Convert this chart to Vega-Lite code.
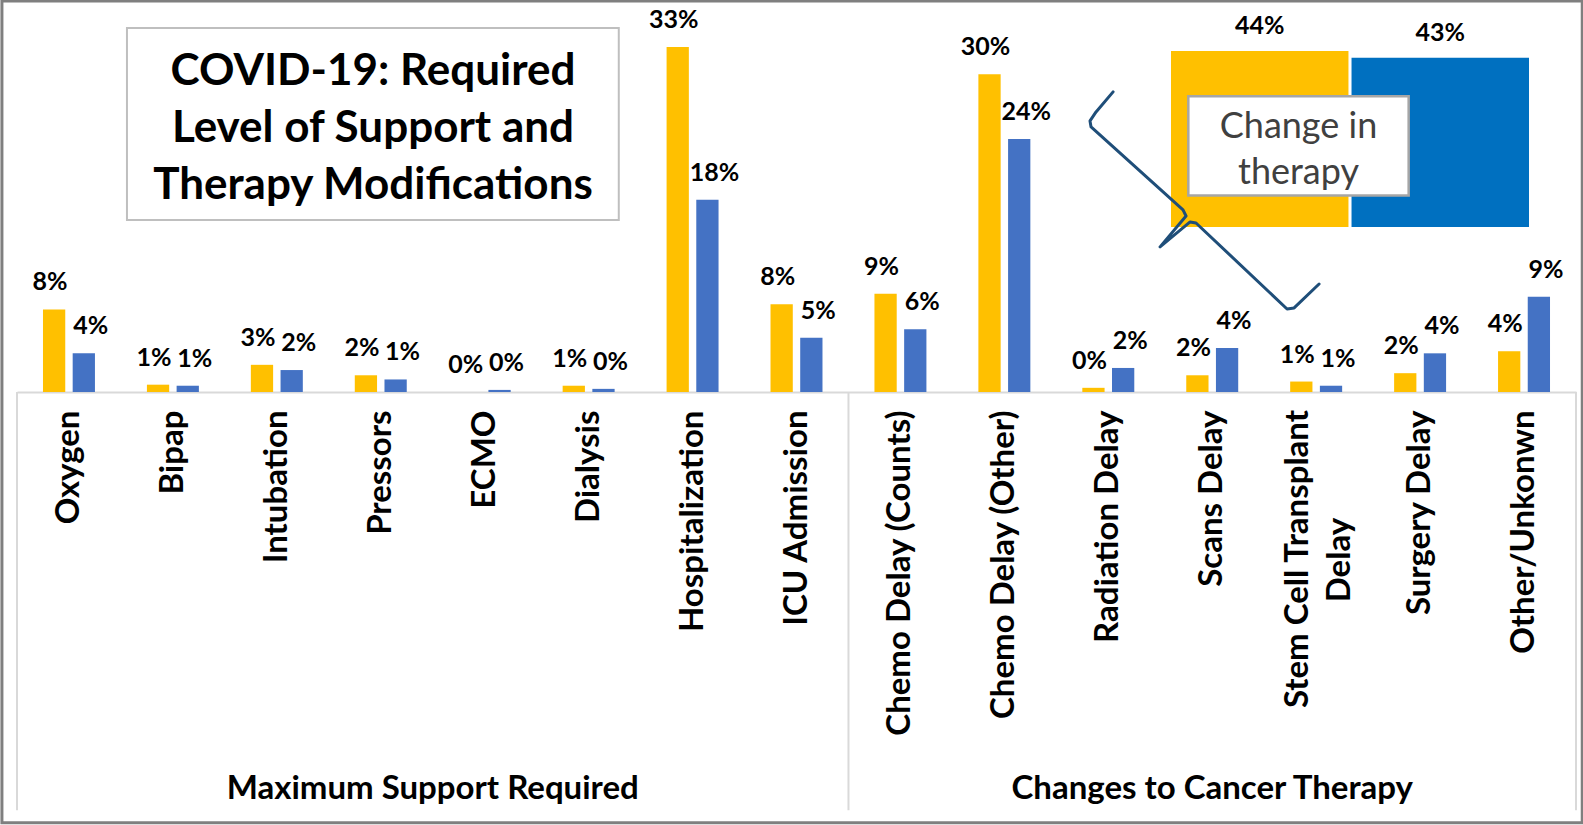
{
  "$schema": "https://vega.github.io/schema/vega-lite/v6.json",
  "width": 1559,
  "height": 392,
  "autosize": {"type": "none"},
  "padding": {"left": 17, "top": 0, "right": 7, "bottom": 433},
  "background": "white",
  "config": {"view": {"stroke": null}, "font": "Lato", "text": {"font": "Lato"}},
  "datasets": {
    "main": [
      {"category": "Oxygen", "series": "Series 1", "share": 0.079},
      {"category": "Oxygen", "series": "Series 2", "share": 0.037},
      {"category": "Bipap", "series": "Series 1", "share": 0.007},
      {"category": "Bipap", "series": "Series 2", "share": 0.006},
      {"category": "Intubation", "series": "Series 1", "share": 0.026},
      {"category": "Intubation", "series": "Series 2", "share": 0.021},
      {"category": "Pressors", "series": "Series 1", "share": 0.016},
      {"category": "Pressors", "series": "Series 2", "share": 0.012},
      {"category": "ECMO", "series": "Series 1", "share": 0.0},
      {"category": "ECMO", "series": "Series 2", "share": 0.002},
      {"category": "Dialysis", "series": "Series 1", "share": 0.006},
      {"category": "Dialysis", "series": "Series 2", "share": 0.003},
      {"category": "Hospitalization", "series": "Series 1", "share": 0.33},
      {"category": "Hospitalization", "series": "Series 2", "share": 0.184},
      {"category": "ICU Admission", "series": "Series 1", "share": 0.084},
      {"category": "ICU Admission", "series": "Series 2", "share": 0.052},
      {"category": "Chemo Delay (Counts)", "series": "Series 1", "share": 0.094},
      {"category": "Chemo Delay (Counts)", "series": "Series 2", "share": 0.06},
      {"category": "Chemo Delay (Other)", "series": "Series 1", "share": 0.304},
      {"category": "Chemo Delay (Other)", "series": "Series 2", "share": 0.242},
      {"category": "Radiation Delay", "series": "Series 1", "share": 0.004},
      {"category": "Radiation Delay", "series": "Series 2", "share": 0.023},
      {"category": "Scans Delay", "series": "Series 1", "share": 0.016},
      {"category": "Scans Delay", "series": "Series 2", "share": 0.042},
      {"category": "Stem Cell Transplant Delay", "series": "Series 1", "share": 0.01},
      {"category": "Stem Cell Transplant Delay", "series": "Series 2", "share": 0.006},
      {"category": "Surgery Delay", "series": "Series 1", "share": 0.018},
      {"category": "Surgery Delay", "series": "Series 2", "share": 0.037},
      {"category": "Other/Unkonwn", "series": "Series 1", "share": 0.039},
      {"category": "Other/Unkonwn", "series": "Series 2", "share": 0.091}
    ],
    "inset": [
      {"series": "Series 1", "share": 0.443},
      {"series": "Series 2", "share": 0.426}
    ],
    "brace": [
      {"i": 0, "bx": 10.546, "by": 0.2871},
      {"i": 1, "bx": 10.382, "by": 0.2679},
      {"i": 2, "bx": 10.324, "by": 0.2593},
      {"i": 3, "bx": 10.334, "by": 0.2536},
      {"i": 4, "bx": 11.219, "by": 0.1742},
      {"i": 5, "bx": 11.248, "by": 0.1684},
      {"i": 6, "bx": 10.998, "by": 0.1388},
      {"i": 7, "bx": 11.287, "by": 0.1627},
      {"i": 8, "bx": 11.344, "by": 0.1617},
      {"i": 9, "bx": 12.22, "by": 0.0794},
      {"i": 10, "bx": 12.288, "by": 0.0804},
      {"i": 11, "bx": 12.528, "by": 0.1033}
    ]
  },
  "resolve": {"scale": {"x": "independent", "y": "independent", "color": "independent", "xOffset": "independent"}},
  "layer": [
    {
      "data": {"name": "main"},
      "encoding": {
        "x": {
          "field": "category", "type": "nominal", "sort": null,
          "scale": {
            "domain": ["Oxygen", "Bipap", "Intubation", "Pressors", "ECMO", "Dialysis", "Hospitalization", "ICU Admission", "Chemo Delay (Counts)", "Chemo Delay (Other)", "Radiation Delay", "Scans Delay", "Stem Cell Transplant Delay", "Surgery Delay", "Other/Unkonwn"],
            "paddingInner": 0.5, "paddingOuter": 0.25
          },
          "axis": {
            "title": null, "labelAngle": 270, "labelAlign": "right", "labelBaseline": "middle",
            "labelPadding": 18, "labelFont": "Lato", "labelFontWeight": "bold", "labelFontSize": 33,
            "labelColor": "#000000", "labelLimit": 0, "labelOverlap": false,
            "ticks": false, "domainColor": "#D9D9D9", "domainWidth": 2,
            "labelExpr": "datum.value == 'Stem Cell Transplant Delay' ? '' : datum.value"
          }
        },
        "xOffset": {"field": "series", "type": "nominal", "scale": {"domain": ["Series 1", "Series 2"], "paddingInner": 0.25, "paddingOuter": 0}},
        "y": {"field": "share", "type": "quantitative", "scale": {"domain": [0, 0.375], "nice": false, "zero": false}, "axis": null}
      },
      "layer": [
        {
          "mark": {"type": "bar"},
          "encoding": {
            "color": {"field": "series", "type": "nominal", "scale": {"domain": ["Series 1", "Series 2"], "range": ["#FFC000", "#4472C4"]}, "legend": null}
          }
        },
        {
          "transform": [{"filter": "datum.series == 'Series 1'"}],
          "mark": {"type": "text", "baseline": "bottom", "dy": -14, "dx": -4, "fontSize": 25, "fontWeight": "bold", "color": "#000000"},
          "encoding": {"text": {"field": "share", "type": "quantitative", "format": ".0%"}}
        },
        {
          "transform": [{"filter": "datum.series == 'Series 2'"}],
          "mark": {"type": "text", "baseline": "bottom", "dy": -14, "dx": 7, "fontSize": 25, "fontWeight": "bold", "color": "#000000"},
          "encoding": {"text": {"field": "share", "type": "quantitative", "format": ".0%"}}
        }
      ]
    },
    {
      "data": {"name": "inset"},
      "encoding": {
        "x": {"field": "series", "type": "nominal", "scale": {"domain": ["Series 1", "Series 2"], "range": [1154, 1512], "paddingInner": 0.017, "paddingOuter": 0}, "axis": null},
        "y": {"field": "share", "type": "quantitative", "scale": {"domain": [0, 0.443], "range": [227, 51], "nice": false}, "axis": null}
      },
      "layer": [
        {
          "mark": {"type": "bar"},
          "encoding": {
            "color": {"field": "series", "type": "nominal", "scale": {"domain": ["Series 1", "Series 2"], "range": ["#FFC000", "#0070C0"]}, "legend": null}
          }
        },
        {
          "mark": {"type": "text", "baseline": "bottom", "dy": -12, "fontSize": 25, "fontWeight": "bold", "color": "#000000"},
          "encoding": {"text": {"field": "share", "type": "quantitative", "format": ".0%"}}
        }
      ]
    },
    {
      "data": {"values": [{}]},
      "layer": [
        {
          "mark": {"type": "rule", "color": "#D9D9D9", "strokeWidth": 2},
          "data": {"values": [{"boundary": 0}, {"boundary": 8}, {"boundary": 15}]},
          "encoding": {
            "x": {"field": "boundary", "type": "quantitative", "scale": {"domain": [0, 15], "nice": false, "zero": false}, "axis": null},
            "y": {"datum": 0, "type": "quantitative", "scale": {"domain": [0, 0.375], "nice": false, "zero": false}, "axis": null},
            "y2": {"datum": -0.4}
          }
        },
        {
          "mark": {"type": "text", "fontSize": 33, "fontWeight": "bold", "color": "#000000", "align": "right", "baseline": "middle", "angle": 270, "text": "Stem Cell Transplant"},
          "encoding": {
            "x": {"datum": 12.324, "type": "quantitative"},
            "y": {"datum": -0.0172, "type": "quantitative"}
          }
        },
        {
          "mark": {"type": "text", "fontSize": 33, "fontWeight": "bold", "color": "#000000", "align": "center", "baseline": "middle", "angle": 270, "text": "Delay"},
          "encoding": {
            "x": {"datum": 12.73, "type": "quantitative"},
            "y": {"datum": -0.1608, "type": "quantitative"}
          }
        },
        {
          "mark": {"type": "text", "fontSize": 33, "fontWeight": "bold", "color": "#000000", "align": "center", "baseline": "middle", "text": "Maximum Support Required"},
          "encoding": {
            "x": {"datum": 4, "type": "quantitative"},
            "y": {"datum": -0.38, "type": "quantitative"}
          }
        },
        {
          "mark": {"type": "text", "fontSize": 33, "fontWeight": "bold", "color": "#000000", "align": "center", "baseline": "middle", "text": "Changes to Cancer Therapy"},
          "encoding": {
            "x": {"datum": 11.5, "type": "quantitative"},
            "y": {"datum": -0.38, "type": "quantitative"}
          }
        },
        {
          "mark": {"type": "rect", "fill": "#FFFFFF", "stroke": "#BFBFBF", "strokeWidth": 2},
          "encoding": {
            "x": {"datum": 1.058, "type": "quantitative"},
            "x2": {"datum": 5.79},
            "y": {"datum": 0.3483, "type": "quantitative"},
            "y2": {"datum": 0.1646}
          }
        },
        {
          "mark": {"type": "text", "fontSize": 44, "fontWeight": "bold", "color": "#000000", "align": "center", "baseline": "middle", "lineHeight": 57, "text": ["COVID-19: Required", "Level of Support and", "Therapy Modifications"]},
          "encoding": {
            "x": {"datum": 3.425, "type": "quantitative"},
            "y": {"datum": 0.306, "type": "quantitative"}
          }
        },
        {
          "mark": {"type": "rect", "fill": "#FFFFFF", "stroke": "#A6A6A6", "strokeWidth": 2.5},
          "encoding": {
            "x": {"datum": 11.27, "type": "quantitative"},
            "x2": {"datum": 13.39},
            "y": {"datum": 0.283, "type": "quantitative"},
            "y2": {"datum": 0.188}
          }
        },
        {
          "mark": {"type": "text", "fontSize": 36, "fontWeight": "normal", "color": "#404040", "align": "center", "baseline": "middle", "lineHeight": 46, "text": ["Change in", "therapy"]},
          "encoding": {
            "x": {"datum": 12.33, "type": "quantitative"},
            "y": {"datum": 0.2536, "type": "quantitative"}
          }
        },
        {
          "data": {"name": "brace"},
          "mark": {"type": "line", "color": "#1F4E79", "strokeWidth": 3, "strokeJoin": "round", "strokeCap": "round"},
          "encoding": {
            "x": {"field": "bx", "type": "quantitative"},
            "y": {"field": "by", "type": "quantitative"},
            "order": {"field": "i", "type": "quantitative"}
          }
        },
        {
          "mark": {"type": "rect", "fill": null, "fillOpacity": 0, "stroke": "#7F7F7F", "strokeWidth": 3},
          "encoding": {
            "x": {"datum": -0.145, "type": "quantitative"},
            "x2": {"datum": 15.06},
            "y": {"datum": 0.374, "type": "quantitative"},
            "y2": {"datum": -0.412}
          }
        }
      ]
    }
  ]
}
